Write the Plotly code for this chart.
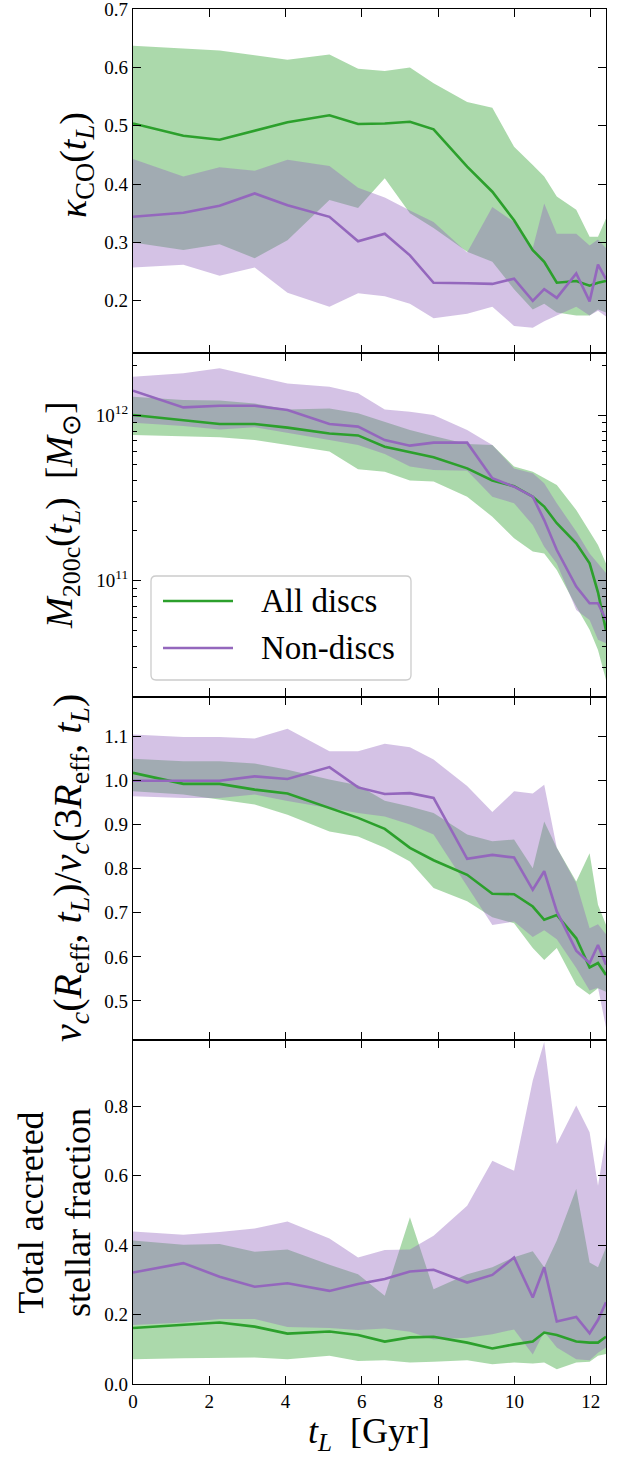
import plotly.graph_objects as go
from plotly.subplots import make_subplots

# ---------------- data ----------------
t_L = [0.0, 1.32, 2.27, 3.19, 4.05, 5.15, 5.90, 6.60, 7.26, 7.88,
       8.76, 9.42, 9.99, 10.48, 10.78, 11.11, 11.62, 11.97, 12.19, 12.40]

# kappa_co
kap_disc_med = [0.504, 0.483, 0.476, 0.491, 0.506, 0.518, 0.503, 0.504, 0.507, 0.494,
                0.430, 0.387, 0.338, 0.287, 0.267, 0.231, 0.234, 0.226, 0.231, 0.234]
kap_disc_hi = [0.637, 0.633, 0.629, 0.621, 0.613, 0.622, 0.598, 0.594, 0.600, 0.573,
               0.541, 0.531, 0.464, 0.433, 0.413, 0.379, 0.356, 0.310, 0.310, 0.341]
kap_disc_lo = [0.300, 0.287, 0.297, 0.273, 0.304, 0.373, 0.359, 0.410, 0.350, 0.325,
               0.284, 0.267, 0.220, 0.185, 0.195, 0.180, 0.175, 0.175, 0.185, 0.180]
kap_non_med = [0.344, 0.351, 0.363, 0.384, 0.364, 0.344, 0.302, 0.315, 0.278, 0.231,
               0.230, 0.229, 0.238, 0.200, 0.220, 0.205, 0.247, 0.199, 0.262, 0.237]
kap_non_hi = [0.443, 0.413, 0.429, 0.423, 0.442, 0.431, 0.394, 0.377, 0.355, 0.335,
              0.283, 0.361, 0.335, 0.290, 0.367, 0.315, 0.315, 0.295, 0.305, 0.290]
kap_non_lo = [0.257, 0.262, 0.243, 0.257, 0.214, 0.190, 0.213, 0.208, 0.195, 0.170,
              0.178, 0.190, 0.157, 0.154, 0.165, 0.175, 0.190, 0.175, 0.183, 0.173]

# M200c [Msun]
m_disc_med = [1.000e12, 9.25e11, 8.83e11, 8.83e11, 8.39e11, 7.74e11, 7.53e11, 6.44e11, 5.96e11, 5.55e11,
              4.76e11, 4.02e11, 3.72e11, 3.21e11, 2.80e11, 2.22e11, 1.68e11, 1.27e11, 8.5e10, 5.0e10]
m_disc_hi = [1.291e12, 1.233e12, 1.222e12, 1.175e12, 1.081e12, 1.096e12, 1.023e12, 9.12e11, 8.11e11, 7.46e11,
             6.68e11, 6.59e11, 4.88e11, 4.55e11, 4.15e11, 3.78e11, 2.67e11, 1.98e11, 1.64e11, 1.27e11]
m_disc_lo = [7.57e11, 7.46e11, 7.33e11, 7.06e11, 6.59e11, 6.01e11, 4.70e11, 4.55e11, 4.02e11, 3.96e11,
             3.21e11, 2.43e11, 1.80e11, 1.50e11, 1.46e11, 1.16e11, 6.97e10, 5.04e10, 3.81e10, 2.51e10]
m_non_med = [1.403e12, 1.112e12, 1.138e12, 1.138e12, 1.072e12, 8.83e11, 8.51e11, 7.06e11, 6.53e11, 6.81e11,
             6.81e11, 4.15e11, 3.69e11, 3.21e11, 2.32e11, 1.53e11, 9.20e10, 7.30e10, 7.30e10, 5.79e10]
m_non_hi = [1.702e12, 1.786e12, 1.914e12, 1.718e12, 1.552e12, 1.483e12, 1.352e12, 1.081e12, 1.047e12, 1.000e12,
            8.11e11, 6.59e11, 4.76e11, 4.45e11, 3.87e11, 2.93e11, 1.98e11, 1.46e11, 1.27e11, 1.11e11]
m_non_lo = [8.99e11, 8.59e11, 8.18e11, 8.43e11, 7.82e11, 7.06e11, 6.59e11, 5.82e11, 4.88e11, 4.66e11,
            4.61e11, 3.21e11, 2.93e11, 2.17e11, 1.60e11, 1.27e11, 6.65e10, 5.79e10, 4.39e10, 4.19e10]

# v_c(Reff)/v_c(3Reff)
vc_disc_med = [1.017, 0.992, 0.992, 0.979, 0.970, 0.937, 0.915, 0.890, 0.847, 0.819,
               0.786, 0.743, 0.742, 0.714, 0.684, 0.695, 0.642, 0.576, 0.586, 0.559]
vc_disc_hi = [1.049, 1.043, 1.043, 1.038, 1.024, 1.002, 0.989, 0.954, 0.941, 0.926,
              0.877, 0.862, 0.866, 0.801, 0.907, 0.847, 0.771, 0.835, 0.718, 0.673]
vc_disc_lo = [0.975, 0.968, 0.956, 0.945, 0.922, 0.884, 0.873, 0.847, 0.816, 0.756,
              0.726, 0.690, 0.676, 0.620, 0.593, 0.620, 0.536, 0.514, 0.529, 0.521]
vc_non_med = [0.999, 0.999, 0.999, 1.009, 1.003, 1.030, 0.984, 0.969, 0.971, 0.960,
              0.822, 0.831, 0.825, 0.752, 0.794, 0.703, 0.614, 0.586, 0.627, 0.582]
vc_non_hi = [1.104, 1.098, 1.098, 1.095, 1.117, 1.066, 1.066, 1.083, 1.075, 1.047,
             0.987, 0.928, 0.975, 0.970, 0.990, 0.847, 0.767, 0.665, 0.674, 0.651]
vc_non_lo = [0.964, 0.960, 0.960, 0.968, 0.953, 0.937, 0.926, 0.918, 0.900, 0.877,
             0.760, 0.672, 0.680, 0.645, 0.660, 0.640, 0.575, 0.524, 0.530, 0.440]

# total accreted stellar fraction
acc_disc_med = [0.161, 0.170, 0.177, 0.165, 0.145, 0.151, 0.141, 0.122, 0.134, 0.136,
                0.119, 0.102, 0.114, 0.122, 0.148, 0.141, 0.122, 0.119, 0.119, 0.136]
acc_disc_hi = [0.413, 0.401, 0.403, 0.381, 0.387, 0.343, 0.316, 0.254, 0.480, 0.273,
               0.316, 0.336, 0.365, 0.382, 0.336, 0.413, 0.562, 0.350, 0.336, 0.393]
acc_disc_lo = [0.071, 0.074, 0.076, 0.076, 0.071, 0.081, 0.066, 0.068, 0.062, 0.064,
               0.068, 0.057, 0.062, 0.059, 0.062, 0.042, 0.062, 0.064, 0.081, 0.086]
acc_non_med = [0.321, 0.348, 0.309, 0.280, 0.290, 0.268, 0.288, 0.302, 0.324, 0.329,
               0.292, 0.314, 0.364, 0.249, 0.336, 0.180, 0.193, 0.146, 0.184, 0.235]
acc_non_hi = [0.439, 0.430, 0.438, 0.448, 0.468, 0.419, 0.364, 0.386, 0.387, 0.427,
              0.513, 0.643, 0.614, 0.874, 0.985, 0.691, 0.802, 0.725, 0.571, 0.711]
acc_non_lo = [0.170, 0.177, 0.187, 0.187, 0.164, 0.161, 0.155, 0.160, 0.150, 0.128,
              0.133, 0.143, 0.157, 0.085, 0.150, 0.105, 0.071, 0.068, 0.090, 0.105]

legend_labels = ["All discs", "Non-discs"]

# ---------------- style ----------------
GREEN = "#2ca02c"
PURPLE = "#9467bd"
GREEN_FILL = "rgba(44,160,44,0.4)"
PURPLE_FILL = "rgba(148,103,189,0.4)"
FONT = "Liberation Serif"

W, H = 625, 1457
ML, MR, MT, MB = 133, 19, 9, 73
PW = W - ML - MR
PH = H - MT - MB

fig = make_subplots(rows=4, cols=1, shared_xaxes=True, vertical_spacing=0)

panels = [
    (kap_disc_med, kap_disc_lo, kap_disc_hi, kap_non_med, kap_non_lo, kap_non_hi),
    (m_disc_med, m_disc_lo, m_disc_hi, m_non_med, m_non_lo, m_non_hi),
    (vc_disc_med, vc_disc_lo, vc_disc_hi, vc_non_med, vc_non_lo, vc_non_hi),
    (acc_disc_med, acc_disc_lo, acc_disc_hi, acc_non_med, acc_non_lo, acc_non_hi),
]


def band(lo, hi, color):
    return go.Scatter(x=t_L + t_L[::-1], y=hi + lo[::-1], mode="lines",
                      line=dict(width=0), fill="toself", fillcolor=color,
                      showlegend=False, hoverinfo="skip")


for i, (dm, dl, dh, nm, nl, nh) in enumerate(panels):
    r = i + 1
    fig.add_trace(band(dl, dh, GREEN_FILL), row=r, col=1)
    fig.add_trace(band(nl, nh, PURPLE_FILL), row=r, col=1)
    fig.add_trace(go.Scatter(x=t_L, y=dm, mode="lines", line=dict(color=GREEN, width=2.6),
                             showlegend=False), row=r, col=1)
    fig.add_trace(go.Scatter(x=t_L, y=nm, mode="lines", line=dict(color=PURPLE, width=2.6),
                             showlegend=False), row=r, col=1)

axis_common = dict(showline=True, linecolor="black", linewidth=1.2, mirror="allticks",
                   ticks="inside", ticklen=8, tickwidth=1.3, tickcolor="black",
                   showgrid=False, zeroline=False, ticklabeloverflow="allow",
                   automargin=False,
                   tickfont=dict(family=FONT, size=19, color="black"))

for r in range(1, 5):
    fig.update_xaxes(range=[0, 12.4], tickvals=[0, 2, 4, 6, 8, 10, 12], row=r, col=1,
                     **axis_common)

fig.update_yaxes(range=[0.111, 0.7002], tickvals=[0.2, 0.3, 0.4, 0.5, 0.6, 0.7],
                 tickformat=".1f", row=1, col=1, **axis_common)
minor_vals = [k * 1e10 for k in range(2, 10)] + [k * 1e11 for k in range(2, 10)] + [2e12]
fig.update_yaxes(type="log", range=[10.30, 12.376], tickvals=[1e11, 1e12],
                 ticktext=["10<sup>11</sup>", "10<sup>12</sup>"],
                 minor=dict(tickvals=minor_vals, ticks="inside", ticklen=4,
                            tickwidth=1.0, tickcolor="black", showgrid=False),
                 row=2, col=1, **axis_common)
fig.update_yaxes(range=[0.411, 1.19], tickvals=[0.5, 0.6, 0.7, 0.8, 0.9, 1.0, 1.1],
                 tickformat=".1f", row=3, col=1, **axis_common)
fig.update_yaxes(range=[-0.0002, 0.99], tickvals=[0.0, 0.2, 0.4, 0.6, 0.8],
                 tickformat=".1f", row=4, col=1, **axis_common)


def px_x(x):
    return (x - ML) / PW


def px_y(y):
    return (H - MB - y) / PH


ytitles = [
    ("<i>κ</i><sub>CO</sub>(<i>t<sub>L</sub></i>)", 76, 165, 38),
    ("<i>M</i><sub>200c</sub>(<i>t<sub>L</sub></i>)  [<i>M</i><sub>⊙</sub>]", 62, 516, 37),
    ("<i>v<sub>c</sub></i>(<i>R</i><sub>eff</sub>, <i>t<sub>L</sub></i>)/<i>v<sub>c</sub></i>(3<i>R</i><sub>eff</sub>, <i>t<sub>L</sub></i>)", 70, 868, 40),
    ("Total accreted<br>stellar fraction", 54, 1213, 36),
]
for text, xp, yp, fs in ytitles:
    fig.add_annotation(text=text, xref="paper", yref="paper", x=px_x(xp), y=px_y(yp),
                       xanchor="center", yanchor="middle", textangle=-90, showarrow=False,
                       font=dict(family=FONT, size=fs, color="black"))

fig.add_annotation(text="<i>t<sub>L</sub></i>  [Gyr]", xref="paper", yref="paper",
                   x=px_x(369), y=px_y(1433), xanchor="center", yanchor="middle",
                   showarrow=False, font=dict(family=FONT, size=36, color="black"))

# manual legend in panel 2
lx0, lx1, ly0, ly1 = px_x(151), px_x(411), px_y(680), px_y(576)
rx, ry = 5 / PW, 5 / PH
path = (f"M {lx0 + rx},{ly0} L {lx1 - rx},{ly0} Q {lx1},{ly0} {lx1},{ly0 + ry} "
        f"L {lx1},{ly1 - ry} Q {lx1},{ly1} {lx1 - rx},{ly1} "
        f"L {lx0 + rx},{ly1} Q {lx0},{ly1} {lx0},{ly1 - ry} "
        f"L {lx0},{ly0 + ry} Q {lx0},{ly0} {lx0 + rx},{ly0} Z")
fig.add_shape(type="path", path=path, xref="paper", yref="paper",
              line=dict(color="#cccccc", width=1.3), fillcolor="rgba(255,255,255,0.8)",
              layer="above")
for label, color, yp in [(legend_labels[0], GREEN, 601), (legend_labels[1], PURPLE, 648)]:
    fig.add_shape(type="line", xref="paper", yref="paper", x0=px_x(163), x1=px_x(233),
                  y0=px_y(yp), y1=px_y(yp), line=dict(color=color, width=2.6), layer="above")
    fig.add_annotation(text=label, xref="paper", yref="paper", x=px_x(259), y=px_y(yp),
                       xanchor="left", yanchor="middle", showarrow=False,
                       font=dict(family=FONT, size=33, color="black"))

fig.update_layout(width=W, height=H, margin=dict(l=ML, r=MR, t=MT, b=MB),
                  plot_bgcolor="white", paper_bgcolor="white", showlegend=False)

fig.write_html("out.html")
